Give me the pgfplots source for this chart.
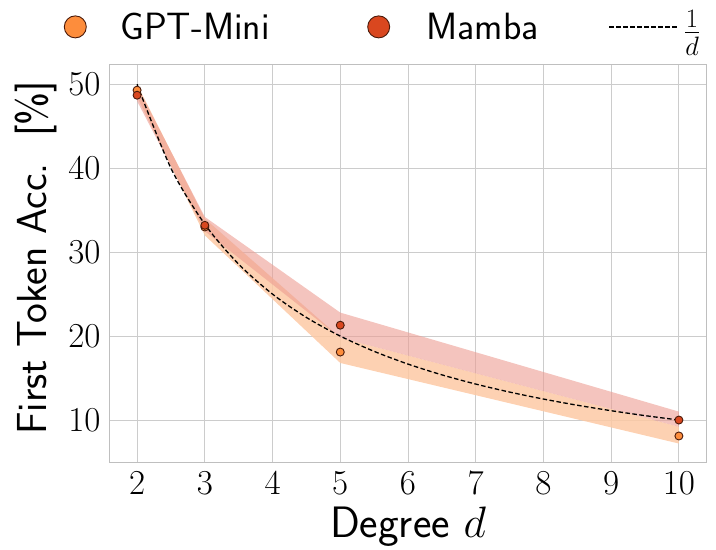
\RequirePackage{fix-cm}
\documentclass[border=0pt]{standalone}
\usepackage{pgfplots}
\pgfplotsset{compat=1.18}

\definecolor{gptc}{HTML}{FD8D3C}
\definecolor{mambac}{HTML}{D9471F}
\definecolor{edgec}{HTML}{4A1A0A}
\definecolor{gptband}{HTML}{FDC9A4}
\definecolor{mambaband}{HTML}{EC9C92}

\pgfplotsset{
    dotlegend/.style={legend image code/.code={\draw[##1, mark size=11pt] plot coordinates {(11pt,0pt)};}},
    linelegend/.style={legend image code/.code={\draw[##1] (0pt,0pt) -- (70pt,0pt);}},
}

\begin{document}
\begin{tikzpicture}
\begin{axis}[
    name=ax,
    scale only axis,
    width=596pt, height=397pt,
    xmin=1.6, xmax=10.4,
    ymin=5, ymax=52.3,
    xtick={2,3,4,5,6,7,8,9,10},
    ytick={10,20,30,40,50},
    major tick length=0pt,
    grid=major,
    major grid style={draw=black!20, line width=0.9pt},
    axis line style={draw=black!25, line width=1pt},
    tick label style={font=\fontsize{35}{40}\selectfont},
    xticklabel style={yshift=-6pt},
    yticklabel style={xshift=-6pt},
    xlabel={Degree $d$},
    ylabel={First Token Acc.\ \ [\%]},
    every axis x label/.style={at={(axis description cs:0.5,-0.189)}, anchor=base,
        font=\fontsize{44}{50}\selectfont\sffamily},
    every axis y label/.style={at={(axis description cs:-0.124,0.514)}, rotate=90, anchor=center,
        font=\fontsize{42}{48}\selectfont\sffamily},
    legend columns=3,
    legend style={draw=none, fill=none, inner sep=0pt,
        at={(axis description cs:-0.077,1.096)}, anchor=west,
        font=\fontsize{38}{44}\selectfont\sffamily,
        /tikz/column 1/.style={column sep=32pt},
        /tikz/column 2/.style={column sep=96pt},
        /tikz/column 3/.style={column sep=35pt},
        /tikz/column 4/.style={column sep=68pt},
        /tikz/column 5/.style={column sep=2pt}},
]
% error bands
\addplot[draw=none, fill=gptband, fill opacity=0.85, forget plot]
    coordinates {(2,50.0) (3,34.0) (5,19.8) (10,9.2) (10,7.2) (5,16.8) (3,32.0) (2,48.5)} -- cycle;
\addplot[draw=none, fill=mambaband, fill opacity=0.6, forget plot]
    coordinates {(2,49.8) (3,34.2) (5,22.8) (10,11.0) (10,9.2) (5,19.8) (3,32.5) (2,48.0)} -- cycle;

\addplot[only marks, mark=*, mark size=4pt,
    mark options={fill=gptc, draw=edgec, line width=0.9pt}, dotlegend]
    coordinates {(2,49.3) (3,33.0) (5,18.1) (10,8.1)};
\addlegendentry{GPT-Mini}

\addplot[only marks, mark=*, mark size=4pt,
    mark options={fill=mambac, draw=edgec, line width=0.9pt}, dotlegend]
    coordinates {(2,48.7) (3,33.2) (5,21.3) (10,10.0)};
\addlegendentry{Mamba}

\addplot[black, line width=1.3pt, dash pattern=on 4.5pt off 2.5pt, smooth, linelegend]
    coordinates {(2,50) (2.5,40) (3,33.333) (3.5,28.571) (4,25) (4.5,22.222)
        (5,20) (5.5,18.182) (6,16.667) (6.5,15.385) (7,14.286) (7.5,13.333)
        (8,12.5) (8.5,11.765) (9,11.111) (9.5,10.526) (10,10)};
\addlegendentry{$\frac{1}{d}$}
\end{axis}
\path ([shift={(-110pt,-86pt)}]ax.south west) rectangle ([shift={(10pt,65pt)}]ax.north east);
\end{tikzpicture}
\end{document}
